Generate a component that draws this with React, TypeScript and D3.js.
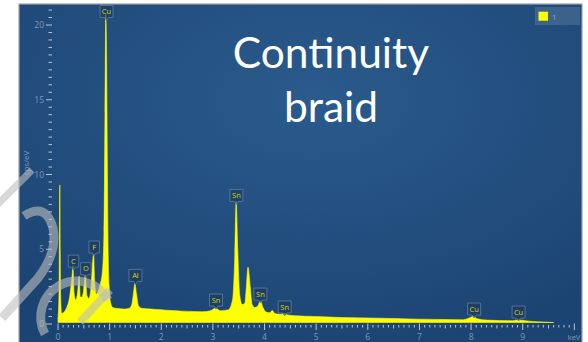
import React from 'react';
import * as d3 from 'd3';

// spectrum: energy (keV) and counts (cps/eV)
const energy = [
  0, 0.02, 0.035, 0.05, 0.07, 0.12, 0.18, 0.22, 0.25, 0.275, 0.29, 0.31, 0.34, 0.38, 0.41, 0.43, 0.46,
  0.49, 0.53, 0.56, 0.6, 0.64, 0.67, 0.69, 0.71, 0.74, 0.78, 0.82, 0.86, 0.89, 0.91, 0.925, 0.94,
  0.955, 0.97, 0.99, 1.02, 1.06, 1.12, 1.2, 1.3, 1.38, 1.43, 1.46, 1.49, 1.52, 1.56, 1.62, 1.8,
  2.0, 2.2, 2.4, 2.6, 2.8, 2.95, 3.05, 3.15, 3.3, 3.38, 3.42, 3.45, 3.48, 3.52, 3.57, 3.62, 3.65,
  3.68, 3.72, 3.76, 3.81, 3.87, 3.92, 3.97, 4.03, 4.1, 4.15, 4.2, 4.3, 4.38, 4.45, 4.6, 5.0, 5.5,
  6.0, 6.5, 7.0, 7.5, 7.85, 7.95, 8.04, 8.12, 8.3, 8.8, 8.92, 9.05, 9.2, 9.4, 9.6,
];
const counts = [
  0.3, 2.0, 9.2, 2.0, 0.6, 0.7, 1.1, 1.6, 2.4, 3.2, 3.8, 2.0, 1.5, 2.0, 3.1, 1.7, 1.7,
  2.0, 3.2, 1.8, 1.6, 2.4, 4.0, 4.6, 2.8, 1.9, 2.1, 2.6, 3.4, 6.0, 14.0, 20.6, 18.0,
  11.0, 5.0, 2.5, 1.3, 1.0, 0.95, 0.92, 0.9, 0.95, 1.2, 1.9, 2.6, 1.9, 1.1, 0.95, 0.9,
  0.85, 0.8, 0.76, 0.74, 0.72, 0.78, 0.95, 0.78, 0.85, 1.5, 4.0, 8.1, 5.0, 1.8, 1.2, 1.3, 2.5,
  3.7, 2.5, 1.2, 1.0, 1.1, 1.45, 1.0, 0.7, 0.65, 0.8, 0.6, 0.55, 0.6, 0.5, 0.45, 0.4, 0.33,
  0.3, 0.27, 0.22, 0.2, 0.18, 0.28, 0.4, 0.25, 0.16, 0.12, 0.17, 0.12, 0.06, 0.03, 0,
];

// peak tags
const peakNames = ['Cu', 'C', 'O', 'F', 'Al', 'Sn', 'Sn', 'Sn', 'Sn', 'Cu', 'Cu'];
const peakEnergy = [0.94, 0.3, 0.54, 0.7, 1.5, 3.455, 3.06, 3.92, 4.39, 8.06, 8.92];
const peakTip = [20.3, 3.6, 3.1, 4.55, 2.65, 8.0, 1.0, 1.4, 0.54, 0.4, 0.2];

const xTickLabels = ['0', '1', '2', '3', '4', '5', '6', '7', '8', '9'];
const yTickLabels = ['0', '5', '10', '15', '20'];

const W = 588;
const H = 342;
const panel = { left: 19, top: 4, right: 582, bottom: 342 };

export default function App() {
  const x = d3.scaleLinear().domain([0, 9]).range([58, 522.7]);
  const y = d3.scaleLinear().domain([0, 20]).range([324, 25]);

  const pts = energy.map((e, i) => [e, counts[i]] as [number, number]);
  const area = d3.area<[number, number]>()
    .x(d => x(d[0]))
    .y0(y(0) - 1.5)
    .y1(d => y(d[1]) - 1.5)
    .curve(d3.curveMonotoneX);

  const xMinor = d3.range(0, 101).map(i => i / 10);
  const yMinor = d3.range(0, 43).map(i => i / 2);

  const tickCol = '#b9c6d6';
  const labelCol = '#8198b3';

  return (
    <div style={{ position: 'absolute', left: 0, top: 0 }}>
      <svg width={W} height={H} style={{ display: 'block' }}>
        <defs>
          <radialGradient id="bg" cx="52%" cy="28%" r="75%">
            <stop offset="0%" stopColor="#2a5b8c" />
            <stop offset="100%" stopColor="#1c4473" />
          </radialGradient>
        </defs>
        <rect x={0} y={0} width={W} height={H} fill="#ffffff" />
        <rect
          x={panel.left}
          y={panel.top}
          width={panel.right - panel.left}
          height={panel.bottom - panel.top + 2}
          fill="url(#bg)"
          stroke="#a2a2a2"
          strokeWidth={1.2}
        />

        {/* y axis */}
        <g>
          {yMinor.map(v => (
            <line
              key={v}
              x1={v % 5 === 0 ? 46 : 48.5}
              x2={52}
              y1={y(v)}
              y2={y(v)}
              stroke={tickCol}
              strokeWidth={1}
            />
          ))}
          {yTickLabels.map(t => (
            <text
              key={t}
              x={44}
              y={y(+t) + 3}
              textAnchor="end"
              fontSize={8.5}
              fontFamily="Open Sans, sans-serif"
              fill={labelCol}
            >
              {t}
            </text>
          ))}
          <text
            transform="translate(29,163) rotate(-90)"
            textAnchor="middle"
            fontSize={8}
            fontFamily="Open Sans, sans-serif"
            fill={labelCol}
          >
            cps/eV
          </text>
        </g>

        {/* x axis */}
        <g>
          {xMinor.map(v => {
            const major = Math.abs(v - Math.round(v)) < 1e-6;
            const half = Math.abs(v * 2 - Math.round(v * 2)) < 1e-6;
            return (
              <line
                key={v}
                x1={x(v)}
                x2={x(v)}
                y1={major ? 323.5 : 325}
                y2={major ? 330 : half ? 328.5 : 327.5}
                stroke={tickCol}
                strokeWidth={1}
              />
            );
          })}
          {xTickLabels.map(t => (
            <text
              key={t}
              x={x(+t)}
              y={340}
              textAnchor="middle"
              fontSize={8.5}
              fontFamily="Open Sans, sans-serif"
              fill={labelCol}
            >
              {t}
            </text>
          ))}
          <text x={574} y={340} textAnchor="middle" fontSize={7.5} fontFamily="Open Sans, sans-serif" fill={labelCol}>
            keV
          </text>
        </g>

        {/* spectrum */}
        <path d={area(pts) ?? ''} fill="#ffff00" stroke="#ffff00" strokeWidth={0.6} />

        {/* peak tags */}
        {peakNames.map((name, i) => {
          const cx = x(peakEnergy[i]);
          const tip = y(peakTip[i]);
          const w = name.length > 1 ? 13 : 10.5;
          const bottom = tip - 3;
          const top = bottom - 12;
          return (
            <g key={i}>
              <path
                d={`M${cx - w / 2},${top} H${cx + w / 2} V${bottom} H${cx + 2} L${cx},${tip} L${cx - 2},${bottom} H${cx - w / 2} Z`}
                fill="rgba(30,55,85,0.55)"
                stroke="#5f7fa3"
                strokeWidth={0.8}
                strokeLinejoin="round"
              />
              <text
                x={cx}
                y={top + 8.8}
                textAnchor="middle"
                fontSize={7.5}
                fontFamily="Open Sans, sans-serif"
                fill="#d6d41a"
              >
                {name}
              </text>
            </g>
          );
        })}

        {/* legend */}
        <rect x={535} y={7} width={45} height={18} fill="rgba(255,255,255,0.13)" />
        <rect x={538.5} y={11.7} width={9.5} height={9} fill="#ffff00" />
        <text x={552} y={19.5} fontSize={8} fontFamily="Open Sans, sans-serif" fill="#8fa3bf">1</text>

        {/* title */}
        <text x={331} y={68} textAnchor="middle" fontSize={42.5} fontFamily="Lato, sans-serif" fill="#ffffff">
          Continuity
        </text>
        <text x={331} y={122} textAnchor="middle" fontSize={42.5} fontFamily="Lato, sans-serif" fill="#ffffff">
          braid
        </text>

        {/* watermark */}
        <g fill="none" stroke="rgba(190,190,190,0.6)" strokeLinecap="butt">
          <line x1={32} y1={170} x2={-3} y2={205} strokeWidth={7} />
          <path d="M24,216 Q46,202 53,228 Q58,252 38,278 L2,318" strokeWidth={9} />
          <path d="M45,334 A33,33 0 1,1 108,300" strokeWidth={9} />
          <line x1={110} y1={290} x2={80} y2={322} strokeWidth={8} />
        </g>
      </svg>
    </div>
  );
}
